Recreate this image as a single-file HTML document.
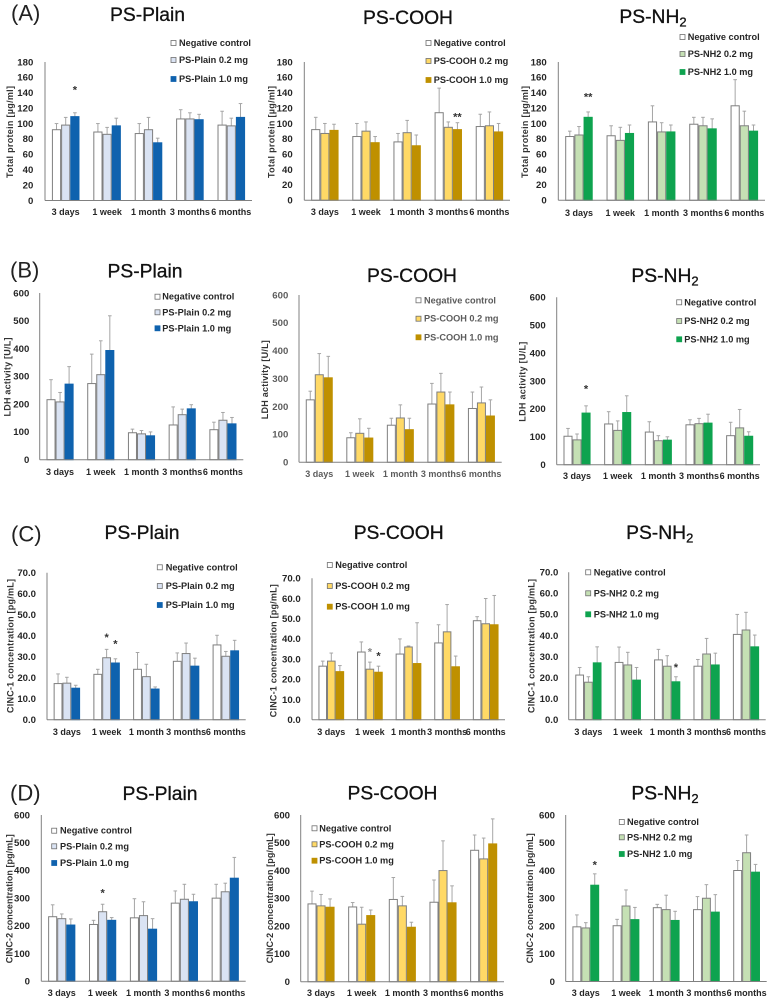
<!DOCTYPE html>
<html lang="en">
<head>
<meta charset="utf-8">
<title>Total protein, LDH, CINC-1 and CINC-2 bar charts</title>
<style>
html,body{margin:0;padding:0;background:#fff;width:768px;height:999px;overflow:hidden}
svg{display:block;font-family:"Liberation Sans",Arial,sans-serif}
</style>
</head>
<body>
<svg id="figure" xmlns="http://www.w3.org/2000/svg" width="768" height="999" viewBox="0 0 768 999"></svg>
<script>
const categories = ['3 days', '1 week', '1 month', '3 months', '6 months'];
const proteinTicks = ['0', '20', '40', '60', '80', '100', '120', '140', '160', '180'];
const ldhTicks = ['0', '100', '200', '300', '400', '500', '600'];
const cinc1Ticks = ['0.0', '10.0', '20.0', '30.0', '40.0', '50.0', '60.0', '70.0'];
const cinc2Ticks = ['0', '100', '200', '300', '400', '500', '600'];

const aPlainNeg = [92, 89, 87, 106, 98];
const aPlainNegSd = [8, 11, 13, 12, 18];
const aPlainMid = [98, 86, 92, 106, 97];
const aPlainMidSd = [10, 9, 16, 8, 10];
const aPlainHigh = [109, 97, 75, 105, 108];
const aPlainHighSd = [5, 10, 6, 7, 18];
const aCoohNeg = [92, 83, 76, 114, 96];
const aCoohNegSd = [16, 17, 11, 32, 16];
const aCoohMid = [87, 90, 88, 95, 97];
const aCoohMidSd = [13, 12, 16, 7, 18];
const aCoohHigh = [91, 75, 71, 92, 89];
const aCoohHighSd = [8, 8, 14, 9, 11];
const aNh2Neg = [83, 84, 102, 99, 123];
const aNh2NegSd = [7, 13, 21, 9, 34];
const aNh2Mid = [85, 78, 89, 97, 97];
const aNh2MidSd = [11, 17, 12, 11, 19];
const aNh2High = [108, 87, 89, 93, 90];
const aNh2HighSd = [7, 11, 9, 13, 8];

const bPlainNeg = [216, 274, 97, 125, 108];
const bPlainNegSd = [72, 106, 13, 65, 27];
const bPlainMid = [208, 306, 93, 162, 142];
const bPlainMidSd = [34, 122, 12, 20, 28];
const bPlainHigh = [272, 393, 86, 183, 129];
const bPlainHighSd = [63, 125, 14, 15, 23];
const bCoohNeg = [224, 88, 133, 209, 193];
const bCoohNegSd = [31, 18, 25, 74, 59];
const bCoohMid = [314, 104, 159, 252, 213];
const bCoohMidSd = [76, 52, 47, 67, 57];
const bCoohHigh = [303, 87, 117, 206, 166];
const bCoohHighSd = [77, 35, 41, 46, 58];
const bNh2Neg = [102, 146, 117, 143, 104];
const bNh2NegSd = [28, 44, 37, 18, 48];
const bNh2Mid = [89, 123, 86, 147, 132];
const bNh2MidSd = [21, 34, 18, 19, 66];
const bNh2High = [185, 187, 88, 149, 102];
const bNh2HighSd = [26, 60, 12, 32, 16];

const cPlainNeg = [17.2, 21.6, 24, 27.8, 35.6];
const cPlainNegSd = [4.6, 2.4, 8, 4, 4.6];
const cPlainMid = [17.4, 29.5, 20.5, 31.5, 30.2];
const cPlainMidSd = [2.8, 4, 5.9, 5, 2.3];
const cPlainHigh = [15, 27, 14.6, 25.5, 32.8];
const cPlainHighSd = [1.4, 2, 1, 3.8, 5];
const cCoohNeg = [26.5, 33.5, 32.5, 38, 49];
const cCoohNegSd = [2.5, 5, 7.5, 9, 2];
const cCoohMid = [29, 25, 36, 43.5, 47.5];
const cCoohMidSd = [4, 3.5, 0.5, 13.5, 12.5];
const cCoohHigh = [23.8, 23.5, 27.8, 26.2, 47];
const cCoohHighSd = [3, 3, 20.2, 5.3, 14.5];
const cNh2Neg = [21.2, 27.2, 28.4, 25.4, 40.5];
const cNh2NegSd = [3.6, 7.3, 5, 3.2, 9.5];
const cNh2Mid = [17.8, 26, 25.4, 31.2, 42.6];
const cNh2MidSd = [2.6, 6, 5, 7.4, 8.4];
const cNh2High = [27, 18.8, 18, 26, 34.6];
const cNh2HighSd = [7.6, 6, 2.4, 5.6, 5.6];

const dPlainNeg = [233, 205, 229, 282, 300];
const dPlainNegSd = [43, 15, 69, 44, 50];
const dPlainMid = [226, 251, 237, 296, 323];
const dPlainMidSd = [17, 27, 50, 54, 31];
const dPlainHigh = [203, 220, 188, 287, 372];
const dPlainHighSd = [22, 10, 38, 27, 75];
const dCoohNeg = [280, 269, 296, 286, 473];
const dCoohNegSd = [46, 16, 79, 80, 55];
const dCoohMid = [273, 207, 273, 400, 442];
const dCoohMidSd = [41, 61, 34, 107, 75];
const dCoohHigh = [268, 238, 196, 284, 496];
const dCoohHighSd = [30, 20, 18, 61, 90];
const dNh2Neg = [197, 201, 266, 259, 400];
const dNh2NegSd = [43, 23, 12, 47, 36];
const dNh2Mid = [193, 272, 259, 300, 464];
const dNh2MidSd = [19, 58, 52, 49, 64];
const dNh2High = [347, 223, 220, 250, 394];
const dNh2HighSd = [41, 44, 33, 63, 28];

const materials = {
  plain: {title: 'PS-Plain', sub: '', mid: 'PS-Plain 0.2 mg', high: 'PS-Plain 1.0 mg', midFill: '#dae3f3', highFill: '#0f62ae'},
  cooh: {title: 'PS-COOH', sub: '', mid: 'PS-COOH 0.2 mg', high: 'PS-COOH 1.0 mg', midFill: '#ffd966', highFill: '#bf9000'},
  nh2: {title: 'PS-NH', sub: '2', mid: 'PS-NH2 0.2 mg', high: 'PS-NH2 1.0 mg', midFill: '#c5e0b4', highFill: '#0ea34f'}
};

const panelLetters = [
  {text: '(A)', x: 11, y: 13},
  {text: '(B)', x: 10, y: 270},
  {text: '(C)', x: 11, y: 534},
  {text: '(D)', x: 10, y: 793}
];

const panels = [
  {id:'a-plain', m:'plain', label:'Total protein [µg/ml]', ticks:proteinTicks, max:180, neg:aPlainNeg, negSd:aPlainNegSd, mid:aPlainMid, midSd:aPlainMidSd, high:aPlainHigh, highSd:aPlainHighSd,
   left:45, right:252, base:200.5, top:62, tickX:33.3, catY:212, titleX:147.5, titleY:14, axT:[10,132,92], legX:171, legTextX:179, legY:[43,60,79], stars:[{g:0,s:2,t:'*',gap:24}]},
  {id:'a-cooh', m:'cooh', label:'Total protein [µg/ml]', ticks:proteinTicks, max:180, neg:aCoohNeg, negSd:aCoohNegSd, mid:aCoohMid, midSd:aCoohMidSd, high:aCoohHigh, highSd:aCoohHighSd,
   left:304.3, right:510, base:200.3, top:62, tickX:292.7, catY:212, titleX:408, titleY:17, axT:[271.7,132,92], legX:426, legTextX:433.7, legY:[43,61,80], stars:[{g:3,s:2,t:'**',gap:6.5}]},
  {id:'a-nh2', m:'nh2', label:'Total protein [µg/ml]', ticks:proteinTicks, max:180, neg:aNh2Neg, negSd:aNh2NegSd, mid:aNh2Mid, midSd:aNh2MidSd, high:aNh2High, highSd:aNh2HighSd,
   left:558.3, right:765, base:200.3, top:62, tickX:546.7, catY:212.7, titleX:653, titleY:16, axT:[525,132,92], legX:680, legTextX:687.7, legY:[37,54,72], stars:[{g:0,s:2,t:'**',gap:16}]},

  {id:'b-plain', m:'plain', label:'LDH activity [U/L]', ticks:ldhTicks, max:600, neg:bPlainNeg, negSd:bPlainNegSd, mid:bPlainMid, midSd:bPlainMidSd, high:bPlainHigh, highSd:bPlainHighSd,
   left:39.7, right:243.3, base:459.7, top:293, tickX:29.3, catY:471.7, titleX:145, titleY:270.7, axT:[7.3,377,79], legX:155, legTextX:162.3, legY:[296.7,312.3,328.3], stars:[]},
  {id:'b-cooh', m:'cooh', muted:true, label:'LDH activity [U/L]', ticks:ldhTicks, max:600, neg:bCoohNeg, negSd:bCoohNegSd, mid:bCoohMid, midSd:bCoohMidSd, high:bCoohHigh, highSd:bCoohHighSd,
   left:299, right:501.7, base:462.3, top:295, tickX:288.3, catY:474, titleX:412, titleY:275, axT:[265,379.7,79], legX:416, legTextX:424, legY:[300.3,318.7,337.3], stars:[]},
  {id:'b-nh2', m:'nh2', label:'LDH activity [U/L]', ticks:ldhTicks, max:600, neg:bNh2Neg, negSd:bNh2NegSd, mid:bNh2Mid, midSd:bNh2MidSd, high:bNh2High, highSd:bNh2HighSd,
   left:556.7, right:760, base:464.7, top:297.3, tickX:545.7, catY:476, titleX:665, titleY:275, axT:[522.7,381.7,80], legX:676.7, legTextX:684.3, legY:[302.3,321,339.3], stars:[{g:0,s:2,t:'*',gap:18}]},

  {id:'c-plain', m:'plain', label:'CINC-1 concentration [pg/mL]', ticks:cinc1Ticks, max:70, neg:cPlainNeg, negSd:cPlainNegSd, mid:cPlainMid, midSd:cPlainMidSd, high:cPlainHigh, highSd:cPlainHighSd,
   left:47, right:245.7, base:719.7, top:572.7, tickX:36, catY:731.7, titleX:142, titleY:532, axT:[10.7,646,134], legX:157.3, legTextX:165.7, legY:[567.3,586,605], stars:[{g:1,s:1,t:'*',gap:13},{g:1,s:2,t:'*',gap:16}]},
  {id:'c-cooh', m:'cooh', label:'CINC-1 concentration [pg/mL]', ticks:cinc1Ticks, max:70, neg:cCoohNeg, negSd:cCoohNegSd, mid:cCoohMid, midSd:cCoohMidSd, high:cCoohHigh, highSd:cCoohHighSd,
   left:312, right:505, base:719.7, top:578.3, tickX:300.7, catY:731.7, titleX:398.7, titleY:532, axT:[273.3,650.7,133], legX:327.3, legTextX:335.3, legY:[565,586,606.7], stars:[{g:1,s:1,t:'*',gap:11,gray:true},{g:1,s:2,t:'*',gap:11}]},
  {id:'c-nh2', m:'nh2', label:'CINC-1 concentration [pg/mL]', ticks:cinc1Ticks, max:70, neg:cNh2Neg, negSd:cNh2NegSd, mid:cNh2Mid, midSd:cNh2MidSd, high:cNh2High, highSd:cNh2HighSd,
   left:568.7, right:765.7, base:719.7, top:572.3, tickX:558.3, catY:731.7, titleX:659.7, titleY:532, axT:[531.7,646,134], legX:585.7, legTextX:593.7, legY:[572.3,593.3,614.3], stars:[{g:2,s:2,t:'*',gap:10}]},

  {id:'d-plain', m:'plain', label:'CINC-2 concentration [pg/mL]', ticks:cinc2Ticks, max:600, neg:dPlainNeg, negSd:dPlainNegSd, mid:dPlainMid, midSd:dPlainMidSd, high:dPlainHigh, highSd:dPlainHighSd,
   left:41.3, right:245.7, base:981.3, top:815, tickX:30, catY:992.7, titleX:160, titleY:793, axT:[9.3,898.7,129], legX:51.7, legTextX:60, legY:[830.7,846.3,863], stars:[{g:1,s:1,t:'*',gap:12}]},
  {id:'d-cooh', m:'cooh', label:'CINC-2 concentration [pg/mL]', ticks:cinc2Ticks, max:600, neg:dCoohNeg, negSd:dCoohNegSd, mid:dCoohMid, midSd:dCoohMidSd, high:dCoohHigh, highSd:dCoohHighSd,
   left:300.7, right:504, base:981.7, top:815, tickX:290, catY:992.7, titleX:392.5, titleY:792.7, axT:[270,898.3,130], legX:312, legTextX:319.3, legY:[828.3,844.3,860.7], stars:[]},
  {id:'d-nh2', m:'nh2', label:'CINC-2 concentration [pg/mL]', ticks:cinc2Ticks, max:600, neg:dNh2Neg, negSd:dNh2NegSd, mid:dNh2Mid, midSd:dNh2MidSd, high:dNh2High, highSd:dNh2HighSd,
   left:565.7, right:766.7, base:981.5, top:815, tickX:555, catY:992.7, titleX:665, titleY:792.7, axT:[530,898.3,130], legX:619.3, legTextX:627, legY:[822,837.3,854], stars:[{g:0,s:2,t:'*',gap:10}]}
];

const NS = 'http://www.w3.org/2000/svg';
const AXIS_COLOR = '#808080';
const ERR_COLOR = '#a6a6a6';
const OUTLINE = '#7f7f7f';

function mk(parent, tag, attrs, text) {
  const el = document.createElementNS(NS, tag);
  for (const k in attrs) el.setAttribute(k, attrs[k]);
  if (text !== undefined) el.textContent = text;
  parent.appendChild(el);
  return el;
}

const figure = document.getElementById('figure');

panelLetters.forEach(function (p) {
  const el = mk(figure, 'text', {x: p.x, y: p.y + 7.5, 'font-size': 22, fill: '#222'}, p.text);
  
  
});

panels.forEach(function (p) {
  const mat = materials[p.m];
  const textColor = p.muted ? '#5c5c5c' : '#262626';
  const g = mk(figure, 'g', {id: p.id});
  
  

  const groupWidth = (p.right - p.left) / categories.length;
  const barStep = groupWidth * 0.222;
  const barWidth = barStep - 1;
  const yScale = function (v) { return p.base - (v / p.max) * (p.base - p.top); };
  const xCenter = function (i) { return p.left + groupWidth * (i + 0.5); };
  const xSeries = function (i, s) { return xCenter(i) + (s - 1) * barStep; };

  const title = mk(g, 'text', {x: p.titleX, y: p.titleY + 7, 'font-size': 19.3, 'text-anchor': 'middle', fill: '#111', stroke: '#111', 'stroke-width': 0.3}, mat.title);
  if (mat.sub) mk(title, 'tspan', {dy: 3.5, 'font-size': 13}, mat.sub);
  
  

  const axisTitle = mk(g, 'text', {
    transform: 'translate(' + (p.axT[0] + 3) + ' ' + p.axT[1] + ') rotate(-90)',
    'text-anchor': 'middle', 'font-size': 9, 'font-weight': 'bold', fill: '#333',
    textLength: p.axT[2], lengthAdjust: 'spacing'
  }, p.label);
  
  

  p.ticks.forEach(function (t) {
    const label = mk(g, 'text', {x: p.tickX, y: yScale(parseFloat(t)) + 3.3, 'text-anchor': 'end', 'font-size': 9.6, 'font-weight': 'bold', fill: textColor}, t);
    
    
  });

  categories.forEach(function (c, i) {
    const label = mk(g, 'text', {x: xCenter(i), y: p.catY + 3.2, 'text-anchor': 'middle', 'font-size': 9, 'font-weight': 'bold', fill: textColor}, c);
    
    
  });

  const series = [
    {name: 'negative-control', values: p.neg, sd: p.negSd, fill: '#ffffff', stroke: OUTLINE},
    {name: 'dose-0-2-mg', values: p.mid, sd: p.midSd, fill: mat.midFill, stroke: OUTLINE},
    {name: 'dose-1-0-mg', values: p.high, sd: p.highSd, fill: mat.highFill, stroke: mat.highFill}
  ];

  series.forEach(function (s, si) {
    s.values.forEach(function (v, i) {
      const cx = xSeries(i, si);
      const errTop = yScale(v + s.sd[i]);
      const stem = mk(g, 'line', {x1: cx, x2: cx, y1: yScale(v), y2: errTop, stroke: ERR_COLOR, 'stroke-width': 1});
      
      
      const cap = mk(g, 'line', {x1: cx - 1.8, x2: cx + 1.8, y1: errTop, y2: errTop, stroke: ERR_COLOR, 'stroke-width': 1});
      
      
      const bar = mk(g, 'rect', {x: cx - barWidth / 2, y: yScale(v), width: barWidth, height: p.base - yScale(v), fill: s.fill, stroke: s.stroke, 'stroke-width': 1});
      
      
    });
  });

  const yAxis = mk(g, 'line', {x1: p.left, x2: p.left, y1: p.top, y2: p.base, stroke: AXIS_COLOR, 'stroke-width': 1});
  
  
  const xAxis = mk(g, 'line', {x1: p.left, x2: p.right, y1: p.base, y2: p.base, stroke: AXIS_COLOR, 'stroke-width': 1});
  
  

  p.stars.forEach(function (st) {
    const s = series[st.s];
    const top = yScale(s.values[st.g] + s.sd[st.g]);
    const mark = mk(g, 'text', {x: xSeries(st.g, st.s), y: top - st.gap + 4.5, 'text-anchor': 'middle', 'font-size': 11, 'font-weight': 'bold', fill: st.gray ? '#8a8a8a' : '#333'}, st.t);
    
    
  });

  const legendLabels = ['Negative control', mat.mid, mat.high];
  legendLabels.forEach(function (text, i) {
    const s = series[i];
    const swatch = mk(g, 'rect', {x: p.legX, y: p.legY[i] - 2.5, width: 5, height: 5, fill: s.fill, stroke: i === 2 ? s.fill : '#6f6f6f', 'stroke-width': 0.8});
    
    
    const lt = mk(g, 'text', {x: p.legTextX, y: p.legY[i] + 3, 'font-size': 9.2, 'font-weight': 'bold', fill: textColor}, text);
    
    
  });
});
</script>
</body>
</html>
